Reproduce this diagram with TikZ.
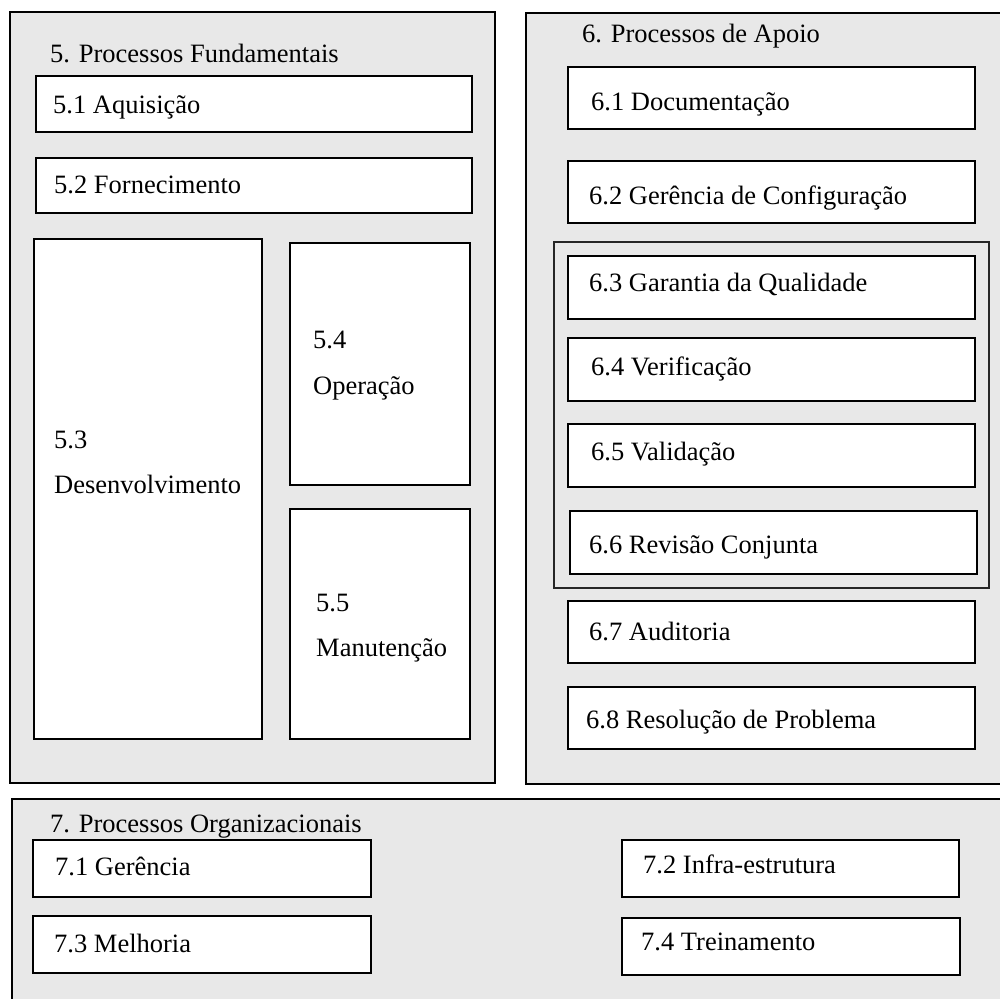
\documentclass[tikz,border=0pt]{standalone}
\usepackage{fontspec}
\setmainfont{Liberation Serif}
\definecolor{panelgrey}{HTML}{E8E8E8}
\tikzset{
  panel/.style={draw=black, line width=1.6pt, fill=panelgrey, rectangle, inner sep=0pt, anchor=north west},
  procbox/.style={draw=black, line width=1.6pt, fill=white, rectangle, inner sep=0pt, anchor=north west},
  groupbox/.style={draw=black!85, line width=1.6pt, rectangle, inner sep=0pt, anchor=north west},
  lbl/.style={anchor=base west, inner sep=0pt, font=\fontsize{26.5}{31}\selectfont}
}
% \rbox{style}{name}{x1}{y1}{x2}{y2}: rectangle node from top-left to bottom-right
\newcommand{\rbox}[6]{%
  \pgfmathsetmacro{\bw}{#5-#3}\pgfmathsetmacro{\bh}{#6-#4}%
  \node[#1, minimum width=\bw pt, minimum height=\bh pt] (#2) at (#3,#4) {};}
\begin{document}
\begin{tikzpicture}[x=1pt, y=-1pt]
\useasboundingbox (0,0) rectangle (1000,998);
\clip (0,0) rectangle (1000,998);

% outer panels
\rbox{panel}{p5}{9}{11}{494}{782}
\rbox{panel}{p6}{525}{12}{1020}{783}
\rbox{panel}{p7}{11}{798}{1020}{1020}

% 5. Processos Fundamentais
\node[lbl] (t5) at (50,63) {5. Processos Fundamentais};
\rbox{procbox}{b51}{35}{75}{471}{131}
\node[lbl] (l51) at (53,113) {5.1 Aquisição};
\rbox{procbox}{b52}{35}{157}{471}{212}
\node[lbl] (l52) at (54,193) {5.2 Fornecimento};
\rbox{procbox}{b53}{33}{238}{261}{738}
\node[lbl] (l53a) at (54,448) {5.3};
\node[lbl] (l53b) at (54,493) {Desenvolvimento};
\rbox{procbox}{b54}{289}{242}{469}{484}
\node[lbl] (l54a) at (313,348) {5.4};
\node[lbl] (l54b) at (313,394) {Operação};
\rbox{procbox}{b55}{289}{508}{469}{738}
\node[lbl] (l55a) at (316,611) {5.5};
\node[lbl] (l55b) at (316,656) {Manutenção};

% 6. Processos de Apoio
\node[lbl] (t6) at (582,43) {6. Processos de Apoio};
\rbox{procbox}{b61}{567}{66}{974}{128}
\node[lbl] (l61) at (591,110) {6.1 Documentação};
\rbox{procbox}{b62}{567}{160}{974}{222}
\node[lbl] (l62) at (589,204) {6.2 Gerência de Configuração};
\rbox{groupbox}{g6}{553}{241}{988}{587}
\rbox{procbox}{b63}{567}{255}{974}{318}
\node[lbl] (l63) at (589,291) {6.3 Garantia da Qualidade};
\rbox{procbox}{b64}{567}{337}{974}{400}
\node[lbl] (l64) at (591,375) {6.4 Verificação};
\rbox{procbox}{b65}{567}{423}{974}{486}
\node[lbl] (l65) at (591,460) {6.5 Validação};
\rbox{procbox}{b66}{569}{510}{976}{573}
\node[lbl] (l66) at (589,553) {6.6 Revisão Conjunta};
\rbox{procbox}{b67}{567}{600}{974}{662}
\node[lbl] (l67) at (589,640) {6.7 Auditoria};
\rbox{procbox}{b68}{567}{686}{974}{748}
\node[lbl] (l68) at (586,728) {6.8 Resolução de Problema};

% 7. Processos Organizacionais
\node[lbl] (t7) at (50,832) {7. Processos Organizacionais};
\rbox{procbox}{b71}{32}{839}{370}{896}
\node[lbl] (l71) at (55,875) {7.1 Gerência};
\rbox{procbox}{b73}{32}{915}{370}{972}
\node[lbl] (l73) at (54,952) {7.3 Melhoria};
\rbox{procbox}{b72}{621}{839}{958}{896}
\node[lbl] (l72) at (643,873) {7.2 Infra-estrutura};
\rbox{procbox}{b74}{621}{917}{959}{974}
\node[lbl] (l74) at (641,950) {7.4 Treinamento};
\end{tikzpicture}
\end{document}
